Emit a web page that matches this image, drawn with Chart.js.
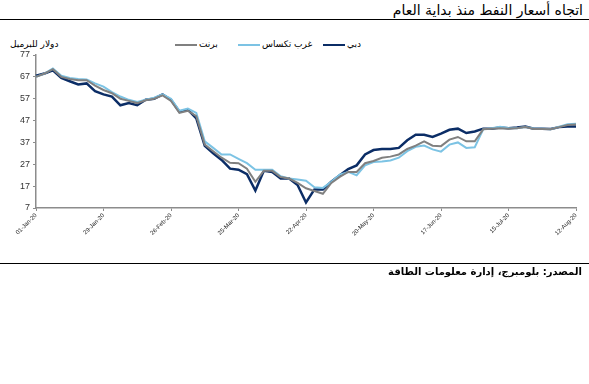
<!DOCTYPE html>
<html>
<head>
<meta charset="utf-8">
<script src="https://cdn.jsdelivr.net/npm/chart.js@4"></script>
<style>
  body { margin: 0; background: #fff; width: 589px; height: 384px; position: relative; overflow: hidden; font-family: "DejaVu Sans", Arial, sans-serif; }
  #chart { position: absolute; left: 0; top: 0; }
  .title { position: absolute; right: 6px; top: 2px; font-size: 14px; direction: rtl; color: #000; }
  .rule { position: absolute; left: 0; width: 589px; height: 0; border-top: 1.5px solid #000; }
  .source { position: absolute; right: 7px; top: 266px; font-size: 10px; font-weight: bold; direction: rtl; color: #000; }
  .unit { position: absolute; left: 10px; top: 39px; font-size: 9px; direction: rtl; color: #000; }
  .legend { position: absolute; top: 39px; font-size: 9px; color: #000; white-space: nowrap; }
  .legend span.ln { display: inline-block; width: 22px; height: 2px; vertical-align: middle; margin-right: 2px; }
</style>
</head>
<body>
<div class="title">اتجاه أسعار النفط منذ بداية العام</div>
<div class="rule" style="top:19px"></div>
<div class="unit">دولار للبرميل</div>
<div class="legend" style="left:175px"><span class="ln" style="background:#808080"></span>برنت</div>
<div class="legend" style="left:238px"><span class="ln" style="background:#7cc3e4"></span>غرب تكساس</div>
<div class="legend" style="left:323px"><span class="ln" style="background:#0b2d66"></span>دبي</div>
<canvas id="chart" width="589" height="384"></canvas>
<div class="rule" style="top:263px"></div>
<div class="source">المصدر: بلومبرج، إدارة معلومات الطاقة</div>
<script>
const dates = [
  "01-Jan-20", "04-Jan-20", "08-Jan-20", "11-Jan-20", "15-Jan-20", "18-Jan-20", "22-Jan-20", "25-Jan-20",
  "29-Jan-20", "01-Feb-20", "05-Feb-20", "08-Feb-20", "12-Feb-20", "15-Feb-20", "19-Feb-20", "22-Feb-20",
  "26-Feb-20", "29-Feb-20", "04-Mar-20", "07-Mar-20", "11-Mar-20", "14-Mar-20", "18-Mar-20", "21-Mar-20",
  "25-Mar-20", "28-Mar-20", "01-Apr-20", "04-Apr-20", "08-Apr-20", "11-Apr-20", "15-Apr-20", "18-Apr-20",
  "22-Apr-20", "25-Apr-20", "29-Apr-20", "02-May-20", "06-May-20", "09-May-20", "13-May-20", "16-May-20",
  "20-May-20", "23-May-20", "27-May-20", "30-May-20", "03-Jun-20", "06-Jun-20", "10-Jun-20", "13-Jun-20",
  "17-Jun-20", "20-Jun-20", "24-Jun-20", "27-Jun-20", "01-Jul-20", "04-Jul-20", "08-Jul-20", "11-Jul-20",
  "15-Jul-20", "18-Jul-20", "22-Jul-20", "25-Jul-20", "29-Jul-20", "01-Aug-20", "05-Aug-20", "08-Aug-20",
  "12-Aug-20"
];

// tick labels shown under the x axis
const tickLabels = ["01-Jan-20", "29-Jan-20", "26-Feb-20", "25-Mar-20", "22-Apr-20", "20-May-20", "17-Jun-20", "15-Jul-20", "12-Aug-20"];

const yTicks = [7, 17, 27, 37, 47, 57, 67, 77];

const brent = [
  67, 68.5, 70.5, 67, 66, 65.5, 65.5, 63,
  61, 59.5, 57, 56, 55, 56.3, 57, 58.5,
  56, 50.5, 51.5, 49, 36, 33, 30, 27.7,
  27.5, 25, 19, 24, 24, 21.2, 20.5, 18.5,
  16, 14.8, 13.5, 18.5, 21.2, 23.5, 23.5, 27.5,
  28.5, 30, 30.5, 31.5, 34, 35.5, 37.5, 35.5,
  35.3, 38.3, 39.5, 37.5, 37.5, 43, 43.3, 43.5,
  43.3, 43.5, 44, 43.2, 43.2, 43, 44, 45,
  45.2
];

const wti = [
  67, 68.5, 70.8, 67.5, 66.5, 66, 65.8, 64,
  62.5, 60, 58, 56.5, 55.5, 56.5, 57.5, 59,
  57, 51.5, 52.5, 50.5, 37.5, 34.5, 31.5, 31.5,
  29.5, 27.5, 24.5, 24.5, 24.5, 21.5, 20.5, 20,
  19.5, 16.5, 16.2, 19, 22.3, 23.5, 22, 26.5,
  28, 28.3, 28.7, 30, 33, 35, 35.6, 33.8,
  32.8, 36, 37, 34.5, 34.8, 43, 43.5, 44.2,
  43.6, 43.5, 44, 43.4, 43.3, 43, 44.2, 45.3,
  45.6
];

const dubai = [
  67.5, 68.5, 70, 66.5, 65, 63.5, 64, 60.5,
  59, 58, 54, 55, 54, 56.5, 57, 59,
  56.5, 51, 52, 48, 35.5, 32, 29, 25,
  24.5, 22.5, 15, 24, 23.5, 20.5, 20.5, 17.5,
  9.5, 15.5, 15.5, 19, 22, 24.8, 26.5, 31.5,
  33.5, 34, 34, 34.5, 38, 40.5, 40.5, 39.5,
  41, 42.8, 43.3, 41.3, 42, 43.3, 43.3, 43.8,
  43.5, 43.8, 44.3, 43.3, 43.3, 43.2, 44, 44.3,
  44.3
];

new Chart(document.getElementById("chart"), {
    type: 'line',
    data: {
        labels: dates,
        datasets: [{
            label: "برنت",
            data: brent,
            borderColor: "#808080",
            borderWidth: 2,
            pointRadius: 0,
            tension: 0,
            fill: false
        }, {
            label: "غرب تكساس",
            data: wti,
            borderColor: "#7cc3e4",
            borderWidth: 2,
            pointRadius: 0,
            tension: 0,
            fill: false
        }, {
            label: "دبي",
            data: dubai,
            borderColor: "#0b2d66",
            borderWidth: 2.5,
            pointRadius: 0,
            tension: 0,
            fill: false
        }]
    },
    options: {
        responsive: false,
        animation: false,
        devicePixelRatio: 1,
        layout: { padding: { left: 0, top: 55, right: 13, bottom: 136 } },
        plugins: {
            legend: { display: false },
            tooltip: { enabled: false }
        },
        scales: {
            x: {
                afterFit: function (scale) { scale.height = 40; },
                border: { display: true, color: '#8c8c8c', width: 1.5 },
                grid: {
                    drawOnChartArea: false,
                    tickLength: 3,
                    color: function (ctx) {
                        return tickLabels.includes(dates[ctx.index]) ? '#8c8c8c' : 'rgba(0,0,0,0)';
                    }
                },
                ticks: {
                    autoSkip: false,
                    minRotation: 45,
                    maxRotation: 45,
                    padding: 1,
                    color: '#222',
                    font: { family: 'Arial', size: 6 },
                    callback: function (value, index) {
                        return tickLabels.includes(dates[index]) ? dates[index] : '';
                    }
                }
            },
            y: {
                min: yTicks[0],
                max: yTicks[yTicks.length - 1],
                afterFit: function (scale) { scale.width = 36; },
                afterBuildTicks: function (scale) {
                    scale.ticks = yTicks.map(function (v) { return { value: v }; });
                },
                border: { display: true, color: '#8c8c8c', width: 1.5 },
                grid: { drawOnChartArea: false, tickLength: 3, color: '#8c8c8c' },
                ticks: {
                    padding: 3,
                    color: '#333',
                    font: { family: 'Arial', size: 9 }
                }
            }
        }
    }
});
</script>
</body>
</html>
